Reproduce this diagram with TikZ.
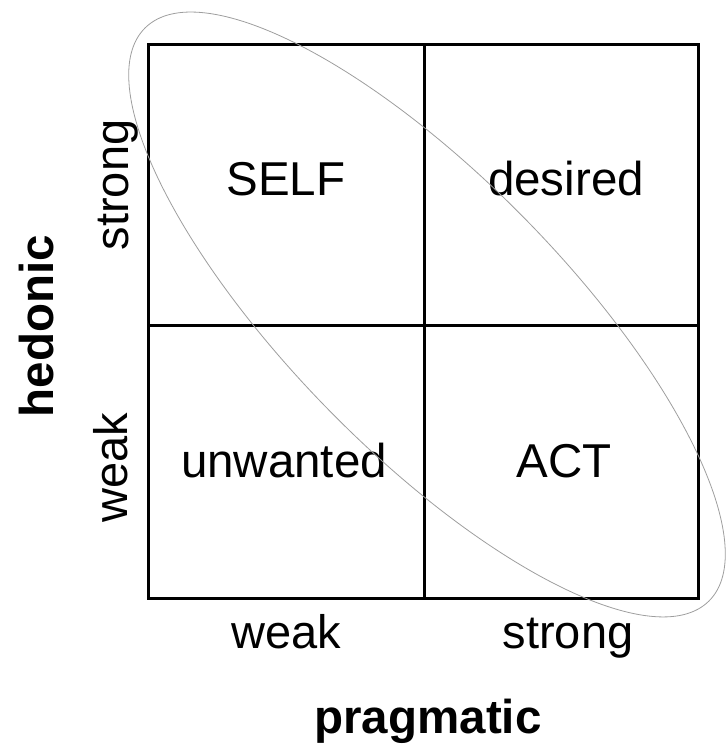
\documentclass[tikz,border=0pt]{standalone}
\usepackage{fontspec}
\setmainfont{Liberation Sans}
\begin{document}
\begin{tikzpicture}[x=1pt,y=-1pt,
  grid/.style={line width=3pt,line cap=rect},
  cell/.style={font=\fontsize{47.5}{56}\selectfont,anchor=base,inner sep=0pt},
  tick/.style={font=\fontsize{47}{56}\selectfont,anchor=base,inner sep=0pt},
  axis/.style={font=\fontsize{47.5}{56}\selectfont\bfseries,anchor=base,inner sep=0pt},
  halo/.style={draw=black!38,line width=0.8pt}]
\useasboundingbox (0,0) rectangle (725,751);
% quadrant grid
\coordinate (tl) at (148,45);
\coordinate (br) at (698,598);
\draw[grid] (tl) rectangle (br);
\coordinate (mt) at (424,45);
\coordinate (mb) at (424,598);
\coordinate (ml) at (148,325);
\coordinate (mr) at (698,325);
\draw[grid] (mt) -- (mb);
\draw[grid] (ml) -- (mr);
% quadrant labels
\node[cell] (self) at (286,196) {SELF};
\node[cell] (desired) at (566,196) {desired};
\node[cell] (unwanted) at (284,477) {unwanted};
\node[cell] (act) at (564,477) {ACT};
% horizontal axis
\node[tick] (xweak) at (286,648) {weak};
\node[tick] (xstrong) at (568,648) {strong};
\node[axis] (xlabel) at (428,733) {pragmatic};
% vertical axis
\node[tick,rotate=90] (ystrong) at (128,185) {strong};
\node[tick,rotate=90] (yweak) at (127,468) {weak};
\node[axis,rotate=90] (ylabel) at (53,326) {hedonic};
% diagonal grouping ellipse
\coordinate (ec) at (427,314.5);
\draw[halo,rotate around={-45.5:(ec)}] (ec) ellipse [x radius=402pt, y radius=137pt];
\end{tikzpicture}
\end{document}
